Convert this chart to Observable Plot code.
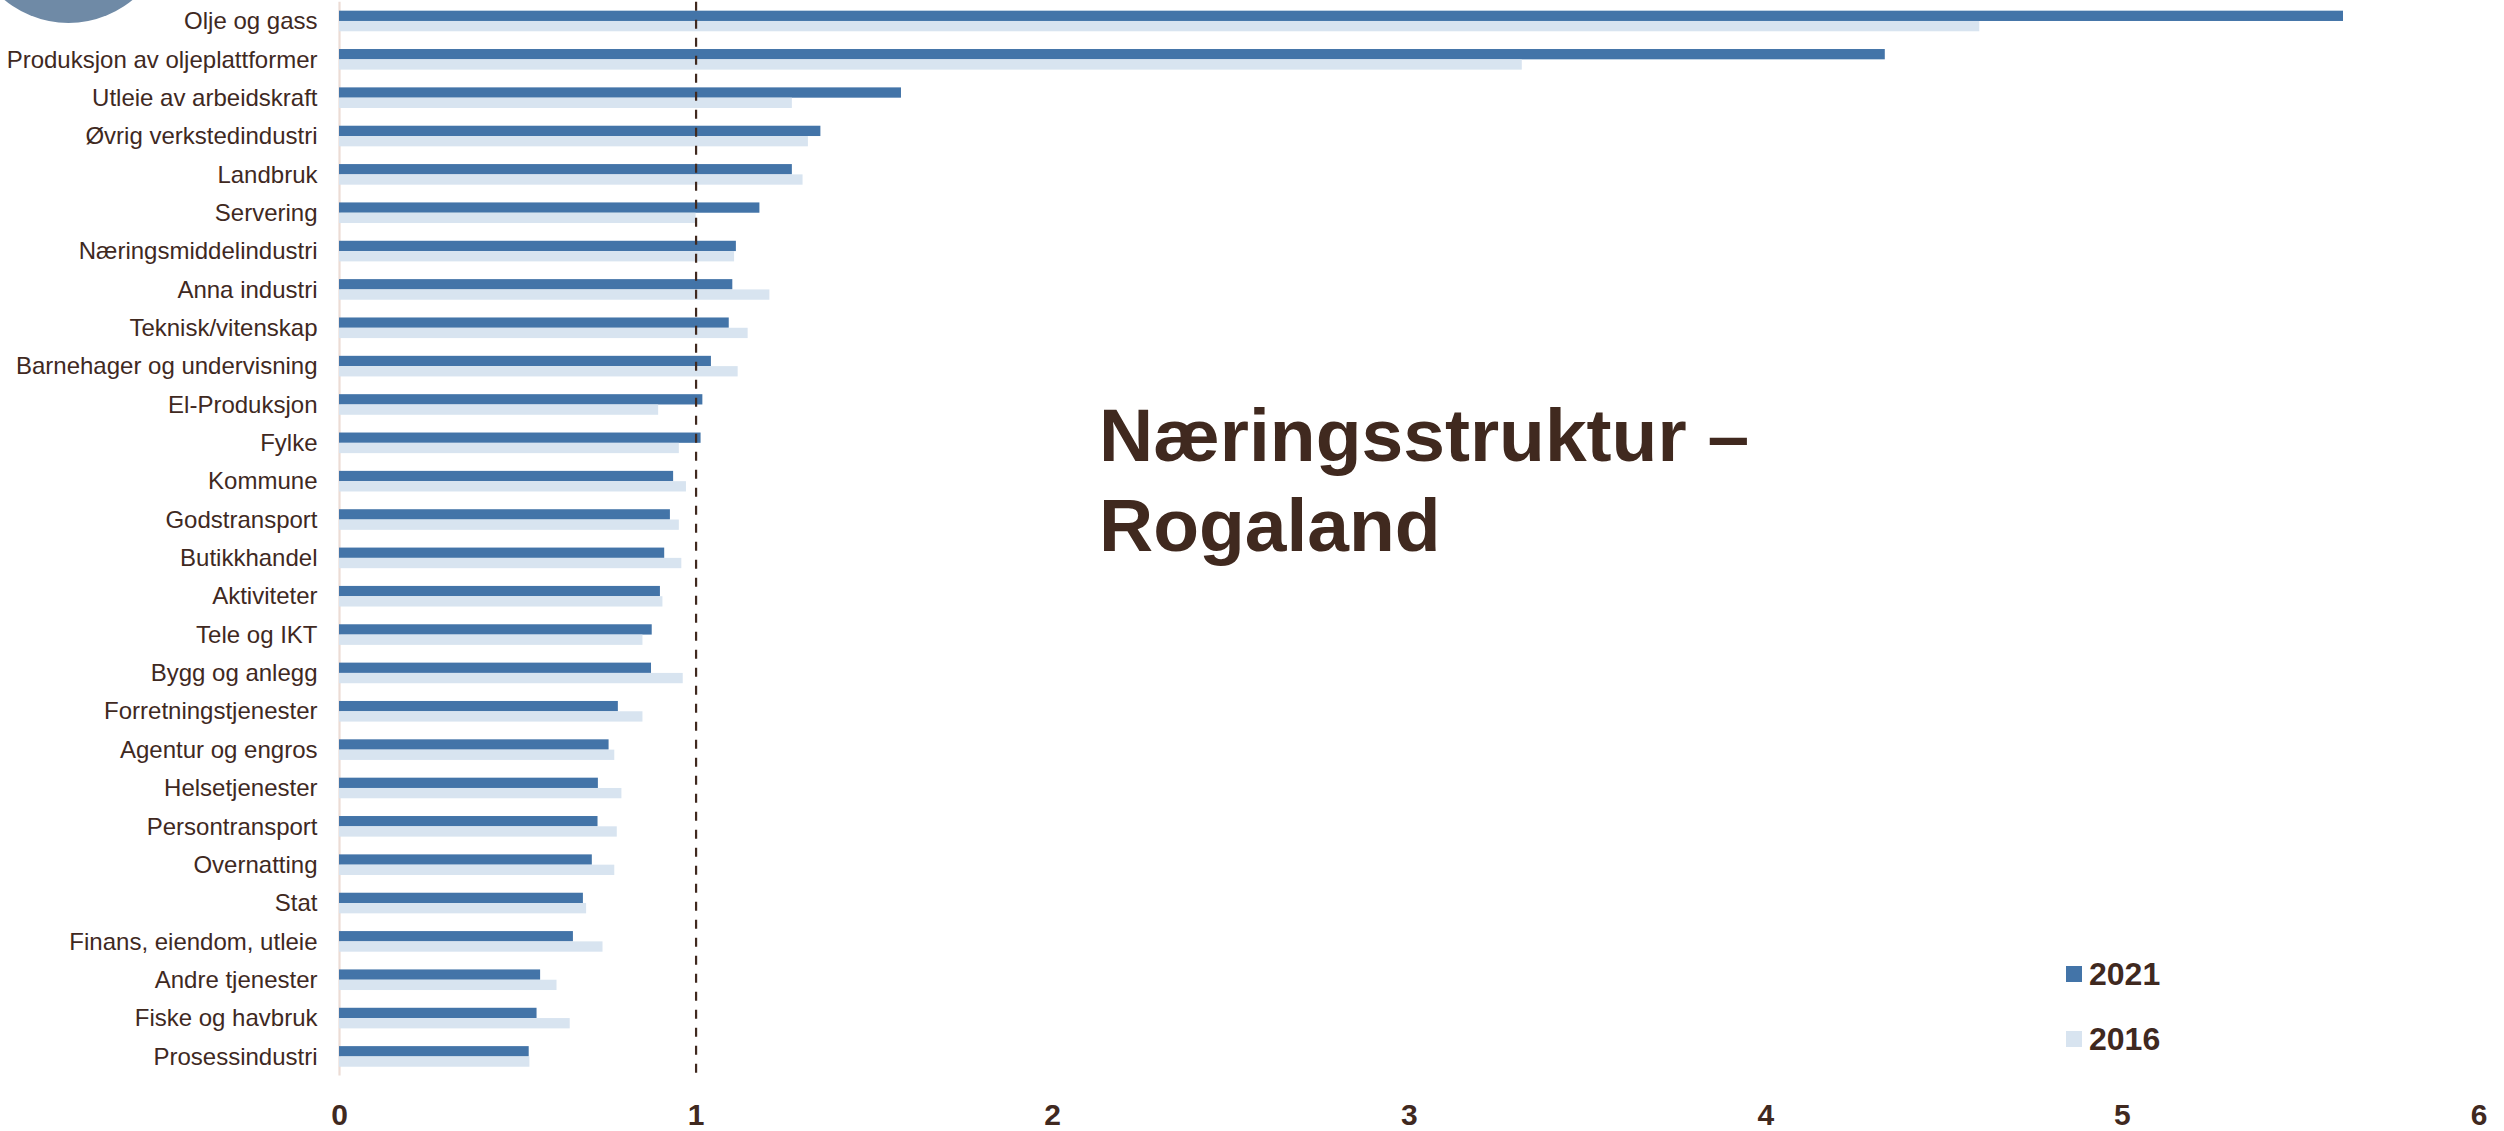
<!DOCTYPE html>
<html>
<head>
<meta charset="utf-8">
<script src="https://cdn.jsdelivr.net/npm/d3@7"></script>
<script src="https://cdn.jsdelivr.net/npm/@observablehq/plot@0.6"></script>
<style>
  html, body { margin: 0; padding: 0; background: #ffffff; }
  #wrap { position: relative; width: 2504px; height: 1131px; overflow: hidden; background: #fff; font-family: "Liberation Sans", Arial, sans-serif; color: #40291f; }
  #deco { position: absolute; left: -32px; top: -178px; width: 201px; height: 201px; border-radius: 50%; background: #6f8aa6; }
  #title { position: absolute; left: 1099px; top: 390px; font-size: 75px; font-weight: bold; line-height: 90px; color: #40291f; white-space: nowrap; }
  #legend { position: absolute; left: 2066px; top: 955px; }
  .lg-item { position: relative; height: 65px; }
  .lg-sw { position: absolute; left: 0; top: 11px; width: 16px; height: 16px; }
  .lg-tx { position: absolute; left: 23px; top: 0; font-size: 32px; font-weight: bold; line-height: 38px; color: #40291f; }
  svg { display: block; }
</style>
</head>
<body>
<div id="wrap">
  <div id="chart"></div>
  <div id="deco"></div>
  <div id="title">Næringsstruktur –<br>Rogaland</div>
  <div id="legend"></div>
</div>
<script>
const categories = [
  "Olje og gass", "Produksjon av oljeplattformer", "Utleie av arbeidskraft", "Øvrig verkstedindustri",
  "Landbruk", "Servering", "Næringsmiddelindustri", "Anna industri", "Teknisk/vitenskap",
  "Barnehager og undervisning", "El-Produksjon", "Fylke", "Kommune", "Godstransport",
  "Butikkhandel", "Aktiviteter", "Tele og IKT", "Bygg og anlegg", "Forretningstjenester",
  "Agentur og engros", "Helsetjenester", "Persontransport", "Overnatting", "Stat",
  "Finans, eiendom, utleie", "Andre tjenester", "Fiske og havbruk", "Prosessindustri"
];
const v2021 = [5.62, 4.335, 1.576, 1.35, 1.27, 1.179, 1.113, 1.103, 1.093, 1.043, 1.019, 1.014, 0.937, 0.928,
  0.912, 0.900, 0.877, 0.875, 0.782, 0.756, 0.726, 0.725, 0.709, 0.684, 0.656, 0.564, 0.554, 0.532];
const v2016 = [4.60, 3.317, 1.27, 1.315, 1.30, 1.0, 1.108, 1.207, 1.146, 1.118, 0.895, 0.953, 0.973, 0.953,
  0.960, 0.907, 0.851, 0.964, 0.851, 0.772, 0.792, 0.779, 0.772, 0.693, 0.739, 0.610, 0.647, 0.534];
const years = ["2021", "2016"];
const colors = ["#4374a8", "#d8e4f0"];
const xTicks = [0, 1, 2, 3, 4, 5, 6];

const rows = [];
categories.forEach((c, i) => {
  rows.push({category: c, year: "2021", value: v2021[i]});
  rows.push({category: c, year: "2016", value: v2016[i]});
});

const W = 2504, H = 1131;
const mTop = 1.8, mBottom = 55.4;
const step = (H - mTop - mBottom) / categories.length;
const barH = 10.3;
const half = step / 2;

const chart = Plot.plot({
  width: W,
  height: H,
  marginLeft: 339,
  marginRight: 25.5,
  marginTop: mTop,
  marginBottom: mBottom,
  style: {fontFamily: "Liberation Sans, Arial, sans-serif", fontSize: "24px", color: "#40291f", background: "transparent"},
  x: {domain: [0, 6], axis: null},
  y: {domain: categories, padding: 0, round: false, axis: null},
  color: {domain: years, range: colors},
  marks: [
    Plot.ruleX([0], {stroke: "#ecdcd5", strokeWidth: 2.2}),
    Plot.barX(rows.filter(d => d.year === "2021"), {x: "value", y: "category", fill: "year", insetTop: half - barH, insetBottom: half}),
    Plot.barX(rows.filter(d => d.year === "2016"), {x: "value", y: "category", fill: "year", insetTop: half, insetBottom: half - barH}),
    Plot.ruleX([1], {stroke: "#40291f", strokeWidth: 2.2, strokeDasharray: "9,9"}),
    Plot.axisY({tickSize: 0, tickPadding: 22, fontSize: 24, fill: "#40291f", label: null}),
    Plot.axisX(xTicks, {tickSize: 0, tickPadding: 28, fontSize: 30, fontWeight: "bold", fill: "#40291f", label: null, tickFormat: d3.format("d")})
  ]
});
document.getElementById("chart").appendChild(chart);

const color = chart.scale("color");
const lg = document.getElementById("legend");
color.domain.forEach((y, i) => {
  const item = document.createElement("div");
  item.className = "lg-item";
  const sw = document.createElement("div");
  sw.className = "lg-sw";
  sw.style.background = color.range[i];
  const tx = document.createElement("div");
  tx.className = "lg-tx";
  tx.textContent = y;
  item.appendChild(sw);
  item.appendChild(tx);
  lg.appendChild(item);
});
</script>
</body>
</html>
